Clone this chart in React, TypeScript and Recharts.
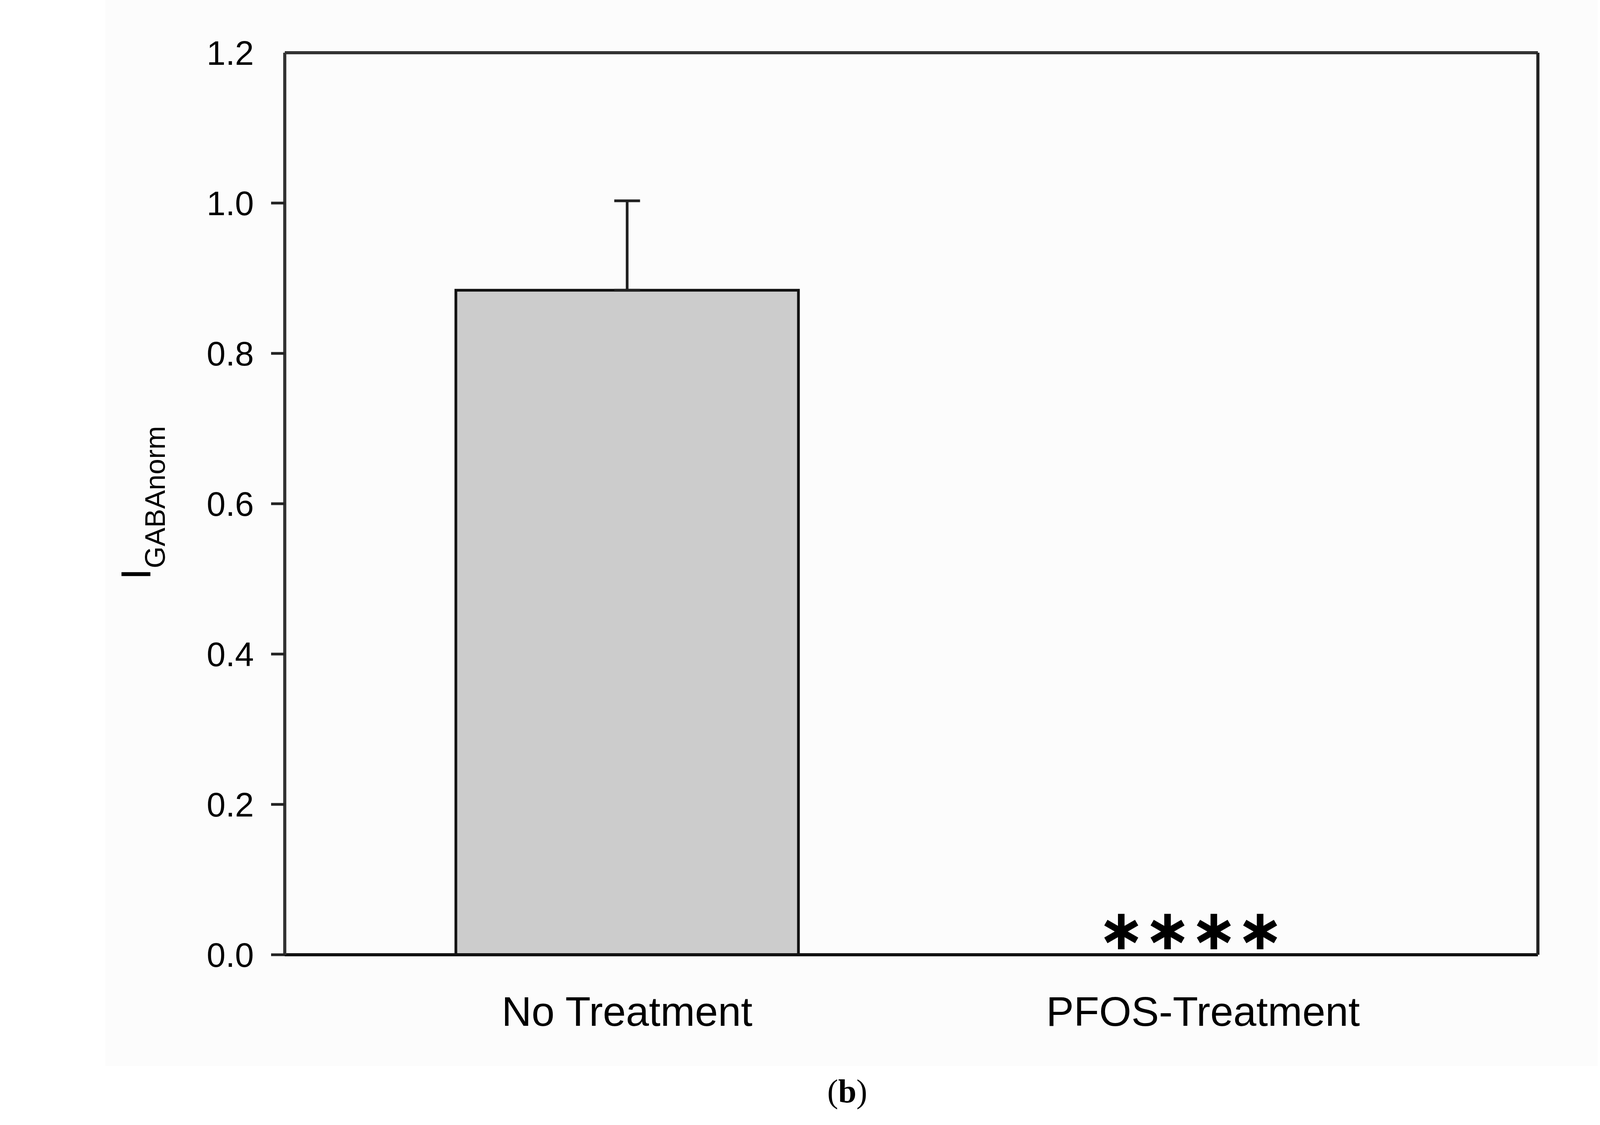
import React from 'react';
import { BarChart, Bar, XAxis, YAxis, ErrorBar, ReferenceDot } from 'recharts';

// values
const groups = ['No Treatment', 'PFOS-Treatment'];
const means = [0.884, 0];
const sem = [0.119, 0];
const marks = ['', '\u2217\u2217\u2217\u2217'];
const yTicks = [0, 0.2, 0.4, 0.6, 0.8, 1.0, 1.2];

const data = groups.map((name, i) => ({
  name,
  value: means[i],
  err: [0, sem[i]],
}));

const FONT = '"Liberation Sans", Arial, sans-serif';
const AXIS = '#222';

const YTick = (props: any) => {
  const { x, y, payload } = props;
  const v = payload.value as number;
  return (
    <g>
      {v < 1.2 && <line x1={x + 44} y1={y} x2={x + 79} y2={y} stroke={AXIS} strokeWidth={7} />}
      <text x={x} y={y} dy={31} textAnchor="end" fontFamily={FONT} fontSize={87} fill="#000">
        {v.toFixed(1)}
      </text>
    </g>
  );
};

const YLabel = (props: any) => {
  const { viewBox } = props;
  const bx = viewBox.x + 56;
  const cy = viewBox.y + viewBox.height / 2 - 2;
  return (
    <text
      x={bx}
      y={cy}
      transform={`rotate(-90, ${bx}, ${cy})`}
      textAnchor="middle"
      fontFamily={FONT}
      fill="#000"
    >
      <tspan fontSize={107}>I</tspan>
      <tspan fontSize={72} dy={37}>GABAnorm</tspan>
    </text>
  );
};

// significance stars sitting on the x axis
const SigLabel = (props: any) => {
  const { viewBox, text } = props;
  const cx = viewBox.x + viewBox.width / 2 - 33;
  const cy = viewBox.y + viewBox.height / 2;
  return (
    <text
      x={cx}
      y={cy - 14}
      textAnchor="middle"
      fontFamily='"DejaVu Sans", sans-serif'
      fontWeight="bold"
      fontSize={145}
      letterSpacing={-3}
      fill="#000"
    >
      {text}
    </text>
  );
};

export default function App() {
  return (
    <div style={{ position: 'absolute', left: 0, top: 0, width: 4378, height: 2881, background: '#fff' }}>
      <div style={{ position: 'absolute', left: 270, top: 0, width: 3820, height: 2730, background: '#fcfcfc' }} />
      <div style={{ position: 'absolute', left: 0, top: 0 }}>
        <BarChart
          width={4378}
          height={2881}
          data={data}
          margin={{ top: 134, right: 440, bottom: 136, left: 329 }}
        >
          <XAxis
            dataKey="name"
            tickLine={false}
            tickSize={0}
            tickMargin={107}
            height={300}
            padding={{ left: 139, right: 120 }}
            axisLine={{ stroke: '#111', strokeWidth: 8 }}
            tick={{ fontFamily: FONT, fontSize: 106, fill: '#000' }}
          />
          <XAxis
            xAxisId="top"
            dataKey="name"
            orientation="top"
            height={1}
            tick={false}
            tickLine={false}
            axisLine={{ stroke: '#333', strokeWidth: 8 }}
          />
          <YAxis
            domain={[0, 1.2]}
            ticks={yTicks}
            width={400}
            tickLine={false}
            tickSize={35}
            tickMargin={44}
            axisLine={{ stroke: '#333', strokeWidth: 8 }}
            tick={<YTick />}
            label={<YLabel />}
          />
          <YAxis
            yAxisId="frame"
            orientation="right"
            domain={[0, 1.2]}
            width={1}
            tick={false}
            tickLine={false}
            axisLine={{ stroke: '#222', strokeWidth: 8 }}
          />
          <Bar
            dataKey="value"
            fill="#cccccc"
            stroke="#111"
            strokeWidth={7}
            barSize={877}
            isAnimationActive={false}
          >
            <ErrorBar dataKey="err" direction="y" width={33} stroke="#222" strokeWidth={7} isAnimationActive={false} />
          </Bar>
          {groups.map((g, i) =>
            marks[i] ? (
              <ReferenceDot
                key={g}
                x={g}
                y={0}
                r={0}
                fill="none"
                stroke="none"
                ifOverflow="visible"
                label={<SigLabel text={marks[i]} />}
              />
            ) : null
          )}
        </BarChart>
      </div>
      <div
        style={{
          position: 'absolute',
          left: 1969,
          top: 2753,
          width: 400,
          textAlign: 'center',
          fontFamily: '"Liberation Serif", "Times New Roman", serif',
          fontSize: 84,
          lineHeight: 1,
          color: '#000',
        }}
      >
        (<b>b</b>)
      </div>
    </div>
  );
}
